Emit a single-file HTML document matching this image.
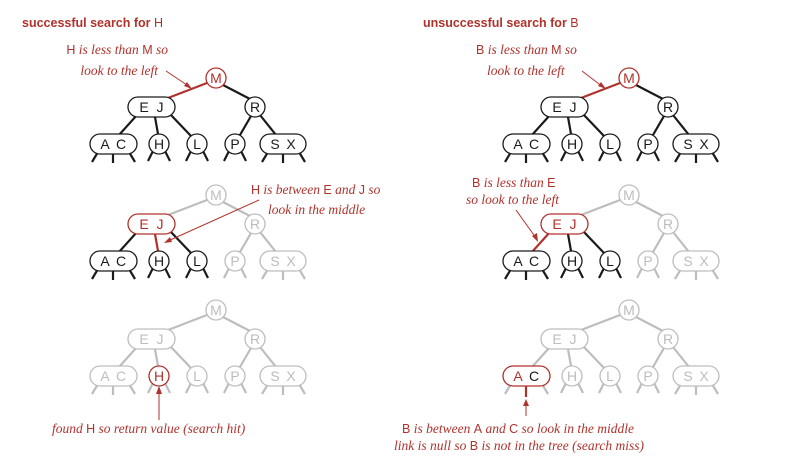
<!DOCTYPE html>
<html><head><meta charset="utf-8"><style>
html,body{margin:0;padding:0;background:#fff}
svg{display:block}
.t{font-family:"Liberation Sans",sans-serif;font-size:14px;text-anchor:middle}
.l{font-family:"Liberation Serif",serif;font-style:italic;font-size:13.5px;fill:#b0322c}
.l tspan.n{font-family:"Liberation Sans",sans-serif;font-style:normal;font-size:12.5px}
.k{stroke:#1a1a1a;fill:#1a1a1a}
.g{stroke:#bdbdbd;fill:#bdbdbd}
.r{stroke:#b0322c;fill:#b0322c}
path{fill:none;stroke-width:2.2}
svg rect,svg circle{fill:#fff !important;stroke-width:1.3}
svg text{stroke:none !important}
</style></head><body>
<svg width="786" height="461" viewBox="0 0 786 461" xmlns="http://www.w3.org/2000/svg">
<text x="22" y="27" style="font-family:'Liberation Sans',sans-serif;font-weight:bold;font-size:12.5px;fill:#b0322c">successful search for <tspan style="font-weight:normal">H</tspan></text>
<text x="423" y="27" style="font-family:'Liberation Sans',sans-serif;font-weight:bold;font-size:12.5px;fill:#b0322c">unsuccessful search for <tspan style="font-weight:normal">B</tspan></text>

<!-- Tree 1 -->
<g>
<path class="r" d="M207 83L168 98"/><path class="k" d="M223 85L250 99"/><path class="k" d="M137 115L119 135"/><path class="k" d="M155 117L158 134"/><path class="k" d="M170 114L191 136"/><path class="k" d="M251 116L240 135"/><path class="k" d="M260 115L276 135"/>
<path class="k" d="M98 152L92 162M113 154L113 163M129 152L135 162M153 151L148 161M165 151L170 161M191 151L186 161M203 151L208 161M229 151L224 161M241 151L246 161M268 152L262 162M283 154L283 163M299 152L305 162"/>
<circle class="r" cx="216" cy="78" r="10"/><text class="t r" x="216" y="83">M</text>
<rect class="k" x="128" y="97" width="47" height="20" rx="10"/><text class="t k" x="144" y="112">E</text><text class="t k" x="160" y="112">J</text>
<circle class="k" cx="255" cy="107" r="10"/><text class="t k" x="255" y="112">R</text>
<rect class="k" x="90" y="134" width="47" height="20" rx="10"/><text class="t k" x="105" y="149">A</text><text class="t k" x="121" y="149">C</text>
<circle class="k" cx="159" cy="144" r="10"/><text class="t k" x="159" y="149">H</text>
<circle class="k" cx="197" cy="144" r="10"/><text class="t k" x="197" y="149">L</text>
<circle class="k" cx="235" cy="144" r="10"/><text class="t k" x="235" y="149">P</text>
<rect class="k" x="260" y="134" width="46" height="20" rx="10"/><text class="t k" x="275" y="149">S</text><text class="t k" x="291" y="149">X</text>
</g>
<text class="l" x="168" y="54" text-anchor="end"><tspan class="n">H</tspan> is less than <tspan class="n">M</tspan> so</text>
<text class="l" x="158" y="75" text-anchor="end">look to the left</text>
<path class="r" style="stroke-width:1" d="M166 71L190 87"/><path class="r" style="stroke:none" d="M192 89L184 86L187 82Z"/>

<!-- Tree 2 -->
<g transform="translate(0,117)">
<path class="g" d="M207 83L168 98"/><path class="g" d="M223 85L250 99"/><path class="k" d="M137 115L119 135"/><path class="r" d="M155 117L158 134"/><path class="k" d="M170 114L191 136"/><path class="g" d="M251 116L240 135"/><path class="g" d="M260 115L276 135"/>
<path class="k" d="M98 152L92 162M113 154L113 163M129 152L135 162M153 151L148 161M165 151L170 161M191 151L186 161M203 151L208 161"/>
<path class="g" d="M229 151L224 161M241 151L246 161M268 152L262 162M283 154L283 163M299 152L305 162"/>
<circle class="g" cx="216" cy="78" r="10"/><text class="t g" x="216" y="83">M</text>
<rect class="r" x="128" y="97" width="47" height="20" rx="10"/><text class="t r" x="144" y="112">E</text><text class="t r" x="160" y="112">J</text>
<circle class="g" cx="255" cy="107" r="10"/><text class="t g" x="255" y="112">R</text>
<rect class="k" x="90" y="134" width="47" height="20" rx="10"/><text class="t k" x="105" y="149">A</text><text class="t k" x="121" y="149">C</text>
<circle class="k" cx="159" cy="144" r="10"/><text class="t k" x="159" y="149">H</text>
<circle class="k" cx="197" cy="144" r="10"/><text class="t k" x="197" y="149">L</text>
<circle class="g" cx="235" cy="144" r="10"/><text class="t g" x="235" y="149">P</text>
<rect class="g" x="260" y="134" width="46" height="20" rx="10"/><text class="t g" x="275" y="149">S</text><text class="t g" x="291" y="149">X</text>
</g>
<text class="l" x="251" y="194"><tspan class="n">H</tspan> is between <tspan class="n">E</tspan> and <tspan class="n">J</tspan> so</text>
<text class="l" x="268" y="214">look in the middle</text>
<path class="r" style="stroke-width:1" d="M259 200L168 241"/><path class="r" style="stroke:none" d="M164 243L170 237L172 242Z"/>

<!-- Tree 3 -->
<g transform="translate(0,232)">
<path class="g" d="M207 83L168 98M223 85L250 99M137 115L119 135M155 117L158 134M170 114L191 136M251 116L240 135M260 115L276 135"/>
<path class="g" d="M98 152L92 162M113 154L113 163M129 152L135 162M153 151L148 161M165 151L170 161M191 151L186 161M203 151L208 161M229 151L224 161M241 151L246 161M268 152L262 162M283 154L283 163M299 152L305 162"/>
<circle class="g" cx="216" cy="78" r="10"/><text class="t g" x="216" y="83">M</text>
<rect class="g" x="128" y="97" width="47" height="20" rx="10"/><text class="t g" x="144" y="112">E</text><text class="t g" x="160" y="112">J</text>
<circle class="g" cx="255" cy="107" r="10"/><text class="t g" x="255" y="112">R</text>
<rect class="g" x="90" y="134" width="47" height="20" rx="10"/><text class="t g" x="105" y="149">A</text><text class="t g" x="121" y="149">C</text>
<circle class="r" cx="159" cy="144" r="10"/><text class="t r" x="159" y="149">H</text>
<circle class="g" cx="197" cy="144" r="10"/><text class="t g" x="197" y="149">L</text>
<circle class="g" cx="235" cy="144" r="10"/><text class="t g" x="235" y="149">P</text>
<rect class="g" x="260" y="134" width="46" height="20" rx="10"/><text class="t g" x="275" y="149">S</text><text class="t g" x="291" y="149">X</text>
</g>
<path class="r" style="stroke-width:1" d="M159 420L159 390"/><path class="r" style="stroke:none" d="M159 386L156 394L162 394Z"/>
<text class="l" x="52" y="433">found <tspan class="n">H</tspan> so return value (search hit)</text>

<!-- Tree 4 -->
<g transform="translate(413,0)">
<path class="r" d="M207 83L168 98"/><path class="k" d="M223 85L250 99"/><path class="k" d="M137 115L119 135"/><path class="k" d="M155 117L158 134"/><path class="k" d="M170 114L191 136"/><path class="k" d="M251 116L240 135"/><path class="k" d="M260 115L276 135"/>
<path class="k" d="M98 152L92 162M113 154L113 163M129 152L135 162M153 151L148 161M165 151L170 161M191 151L186 161M203 151L208 161M229 151L224 161M241 151L246 161M268 152L262 162M283 154L283 163M299 152L305 162"/>
<circle class="r" cx="216" cy="78" r="10"/><text class="t r" x="216" y="83">M</text>
<rect class="k" x="128" y="97" width="47" height="20" rx="10"/><text class="t k" x="144" y="112">E</text><text class="t k" x="160" y="112">J</text>
<circle class="k" cx="255" cy="107" r="10"/><text class="t k" x="255" y="112">R</text>
<rect class="k" x="90" y="134" width="47" height="20" rx="10"/><text class="t k" x="105" y="149">A</text><text class="t k" x="121" y="149">C</text>
<circle class="k" cx="159" cy="144" r="10"/><text class="t k" x="159" y="149">H</text>
<circle class="k" cx="197" cy="144" r="10"/><text class="t k" x="197" y="149">L</text>
<circle class="k" cx="235" cy="144" r="10"/><text class="t k" x="235" y="149">P</text>
<rect class="k" x="260" y="134" width="46" height="20" rx="10"/><text class="t k" x="275" y="149">S</text><text class="t k" x="291" y="149">X</text>
</g>
<text class="l" x="476" y="54"><tspan class="n">B</tspan> is less than <tspan class="n">M</tspan> so</text>
<text class="l" x="487" y="75">look to the left</text>
<path class="r" style="stroke-width:1" d="M582 71L603 87"/><path class="r" style="stroke:none" d="M606 89L598 86L601 82Z"/>

<!-- Tree 5 -->
<g transform="translate(413,117)">
<path class="g" d="M207 83L168 98"/><path class="g" d="M223 85L250 99"/><path class="r" d="M137 115L119 135"/><path class="k" d="M155 117L158 134"/><path class="k" d="M170 114L191 136"/><path class="g" d="M251 116L240 135"/><path class="g" d="M260 115L276 135"/>
<path class="k" d="M98 152L92 162M113 154L113 163M129 152L135 162M153 151L148 161M165 151L170 161M191 151L186 161M203 151L208 161"/>
<path class="g" d="M229 151L224 161M241 151L246 161M268 152L262 162M283 154L283 163M299 152L305 162"/>
<circle class="g" cx="216" cy="78" r="10"/><text class="t g" x="216" y="83">M</text>
<rect class="r" x="128" y="97" width="47" height="20" rx="10"/><text class="t r" x="144" y="112">E</text><text class="t r" x="160" y="112">J</text>
<circle class="g" cx="255" cy="107" r="10"/><text class="t g" x="255" y="112">R</text>
<rect class="k" x="90" y="134" width="47" height="20" rx="10"/><text class="t k" x="105" y="149">A</text><text class="t k" x="121" y="149">C</text>
<circle class="k" cx="159" cy="144" r="10"/><text class="t k" x="159" y="149">H</text>
<circle class="k" cx="197" cy="144" r="10"/><text class="t k" x="197" y="149">L</text>
<circle class="g" cx="235" cy="144" r="10"/><text class="t g" x="235" y="149">P</text>
<rect class="g" x="260" y="134" width="46" height="20" rx="10"/><text class="t g" x="275" y="149">S</text><text class="t g" x="291" y="149">X</text>
</g>
<text class="l" x="472" y="187"><tspan class="n">B</tspan> is less than <tspan class="n">E</tspan></text>
<text class="l" x="466" y="204">so look to the left</text>
<path class="r" style="stroke-width:1" d="M516 210L536 238"/><path class="r" style="stroke:none" d="M538 242L532 236L537 233Z"/>

<!-- Tree 6 -->
<g transform="translate(413,232)">
<path class="g" d="M207 83L168 98M223 85L250 99M137 115L119 135M155 117L158 134M170 114L191 136M251 116L240 135M260 115L276 135"/>
<path class="g" d="M98 152L92 162M129 152L135 162M153 151L148 161M165 151L170 161M191 151L186 161M203 151L208 161M229 151L224 161M241 151L246 161M268 152L262 162M283 154L283 163M299 152L305 162"/>
<path class="r" d="M113 154L113 165"/>
<circle class="g" cx="216" cy="78" r="10"/><text class="t g" x="216" y="83">M</text>
<rect class="g" x="128" y="97" width="47" height="20" rx="10"/><text class="t g" x="144" y="112">E</text><text class="t g" x="160" y="112">J</text>
<circle class="g" cx="255" cy="107" r="10"/><text class="t g" x="255" y="112">R</text>
<rect class="r" x="90" y="134" width="47" height="20" rx="10"/><text class="t r" x="105" y="149">A</text><text class="t k" x="121" y="149">C</text>
<circle class="g" cx="159" cy="144" r="10"/><text class="t g" x="159" y="149">H</text>
<circle class="g" cx="197" cy="144" r="10"/><text class="t g" x="197" y="149">L</text>
<circle class="g" cx="235" cy="144" r="10"/><text class="t g" x="235" y="149">P</text>
<rect class="g" x="260" y="134" width="46" height="20" rx="10"/><text class="t g" x="275" y="149">S</text><text class="t g" x="291" y="149">X</text>
</g>
<path class="r" style="stroke-width:1" d="M526 416L526 402"/><path class="r" style="stroke:none" d="M526 399L523 406L529 406Z"/>
<text class="l" x="402" y="433"><tspan class="n">B</tspan> is between <tspan class="n">A</tspan> and <tspan class="n">C</tspan> so look in the middle</text>
<text class="l" x="394" y="450">link is null so <tspan class="n">B</tspan> is not in the tree (search miss)</text>
</svg>
</body></html>
